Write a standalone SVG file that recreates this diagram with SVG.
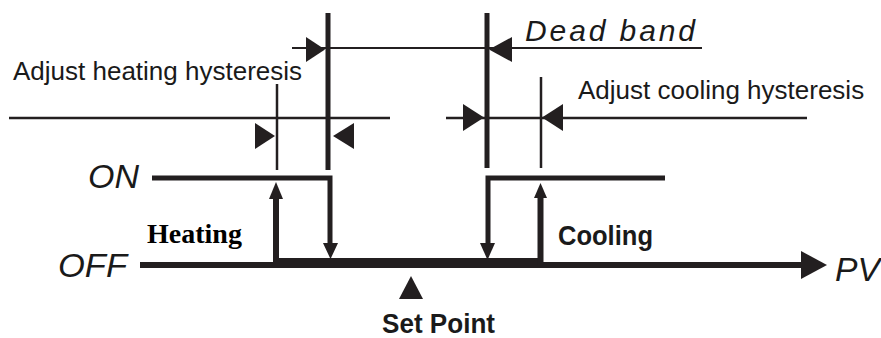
<svg xmlns="http://www.w3.org/2000/svg" width="881" height="338" viewBox="0 0 881 338">
<style>
.t{font-family:"Liberation Sans",Arial,sans-serif;fill:#1a1a1a}
.i{font-style:italic;font-weight:normal}
.b{font-weight:bold}
.s{font-family:"Liberation Serif","Times New Roman",serif;font-weight:bold;fill:#000}
.ln{stroke:#231f20;fill:none}
.ah{fill:#231f20;stroke:none}
</style>
<rect width="881" height="338" fill="#fff"/>
<g id="connectors">
  <line class="ln" x1="328" y1="13" x2="328" y2="170" stroke-width="5"/>
  <line class="ln" x1="277" y1="84" x2="277" y2="170" stroke-width="2.5"/>
  <line class="ln" x1="487" y1="13" x2="487" y2="168" stroke-width="5"/>
  <line class="ln" x1="541" y1="77" x2="541" y2="168" stroke-width="2.5"/>
  <line class="ln" x1="292" y1="48" x2="702" y2="48" stroke-width="2"/>
  <polygon class="ah" points="306,37 325,49.5 306,62"/>
  <polygon class="ah" points="512,37 489,49.5 512,62"/>
  <line class="ln" x1="9" y1="118" x2="390" y2="118" stroke-width="2.5"/>
  <polygon class="ah" points="255,123 275,136 255,149"/>
  <polygon class="ah" points="354,123 333,136 354,149"/>
  <line class="ln" x1="446" y1="118" x2="807" y2="118" stroke-width="2.5"/>
  <polygon class="ah" points="463,104 484,117.5 463,131"/>
  <polygon class="ah" points="563,104 542,117.5 563,131"/>
  <line class="ln" x1="140" y1="265" x2="803" y2="265" stroke-width="6"/>
  <rect class="ah" x="276" y="258" width="265" height="10"/>
  <polygon class="ah" points="801,251 827,265 801,279"/>
  <polyline class="ln" points="152,178 330,178 330,245" stroke-width="5"/>
  <polygon class="ah" points="323,243 338,243 330.5,259"/>
  <line class="ln" x1="276" y1="265" x2="276" y2="197" stroke-width="6"/>
  <polygon class="ah" points="269,199 283,199 276,182"/>
  <polyline class="ln" points="665,178 488,178 488,245" stroke-width="5"/>
  <polygon class="ah" points="480,243 495,243 487.5,260"/>
  <line class="ln" x1="540.5" y1="265" x2="540.5" y2="196" stroke-width="6"/>
  <polygon class="ah" points="534,198 547,198 540.5,183"/>
  <polygon class="ah" points="399,299 423,299 411,276"/>
</g>
<g id="label-heating-hyst"><text class="t" x="13" y="80" font-size="26">Adjust heating hysteresis</text></g>
<g id="label-cooling-hyst"><text class="t" x="578" y="99" font-size="26">Adjust cooling hysteresis</text></g>
<g id="label-deadband"><text class="t i" x="525" y="41" font-size="30" textLength="170" lengthAdjust="spacing">Dead band</text></g>
<g id="label-on"><text class="t i" x="88" y="188" font-size="34" textLength="51" lengthAdjust="spacingAndGlyphs">ON</text></g>
<g id="label-off"><text class="t i" x="58" y="277" font-size="34" textLength="69" lengthAdjust="spacingAndGlyphs">OFF</text></g>
<g id="label-pv"><text class="t i" x="835" y="281" font-size="34" textLength="45" lengthAdjust="spacingAndGlyphs">PV</text></g>
<g id="label-heating"><text class="s" x="147" y="243" font-size="28">Heating</text></g>
<g id="label-cooling"><text class="t b" x="558" y="245" font-size="27" textLength="95" lengthAdjust="spacingAndGlyphs">Cooling</text></g>
<g id="label-setpoint"><text class="t b" x="382" y="333" font-size="27" textLength="113" lengthAdjust="spacingAndGlyphs">Set Point</text></g>
</svg>
